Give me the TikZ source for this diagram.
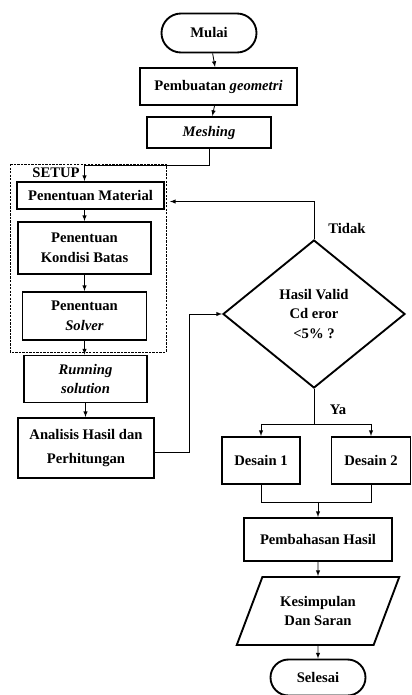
\documentclass[tikz,border=0pt]{standalone}
\usepackage{fontspec}
\setmainfont{Liberation Serif}
\usetikzlibrary{shapes.geometric,shapes.misc,positioning}
\tikzset{
  teks/.style={font=\bfseries\fontsize{12.5}{17}\selectfont, align=center, inner sep=0pt},
  terminal/.style={teks, rounded rectangle, draw, line width=1.6pt},
  kotak/.style={teks, rectangle, draw, line width=1.6pt},
  keputusan/.style={teks, diamond, draw, line width=1.6pt, aspect=1.23},
  data/.style={teks, trapezium, trapezium left angle=60, trapezium right angle=120, trapezium stretches=true, draw, line width=1.6pt},
  panah/.style={-latex, line width=0.7pt},
  garis/.style={line width=0.7pt}
}
\begin{document}
\begin{tikzpicture}[x=0.03cm,y=-0.03cm]
\useasboundingbox (0,0) rectangle (411,695);
\draw[dashed, dash pattern=on 2pt off 1pt, line width=0.6pt] (10,164) rectangle (166,352);
\node[teks] (setup) at (56,173) {SETUP};
\node[terminal, minimum width=2.85cm, minimum height=1.17cm] (mulai) at (209,33) {Mulai};
\node[kotak, minimum width=4.71cm, minimum height=1.11cm] (geometri) at (218.5,86.5) {Pembuatan \textit{geometri}};
\node[kotak, minimum width=3.72cm, minimum height=0.93cm] (meshing) at (209,132.5) {\textit{Meshing}};
\node[kotak, minimum width=4.41cm, minimum height=0.81cm] (material) at (90.5,195.5) {Penentuan Material};
\node[kotak, minimum width=3.99cm, minimum height=1.56cm] (kondisi) at (84.5,248) {Penentuan\\Kondisi Batas};
\node[kotak, minimum width=3.72cm, minimum height=1.44cm] (solver) at (84.5,316) {Penentuan\\\textit{Solver}};
\node[kotak, minimum width=3.69cm, minimum height=1.41cm] (running) at (85.5,379) {\textit{Running}\\\textit{solution}};
\node[kotak, minimum width=4.08cm, minimum height=1.8cm] (analisis) at (86,448) {Analisis Hasil dan\\[3pt]Perhitungan};
\node[keputusan, minimum width=5.46cm, minimum height=4.44cm] (valid) at (314,314) {Hasil Valid\\Cd eror\\<5\% ?};
\node[teks] (tidak) at (347,228) {Tidak};
\node[teks] (ya) at (338,410) {Ya};
\node[kotak, minimum width=2.34cm, minimum height=1.41cm] (desain1) at (261,460.5) {Desain 1};
\node[kotak, minimum width=2.37cm, minimum height=1.41cm] (desain2) at (371,460.5) {Desain 2};
\node[kotak, minimum width=4.44cm, minimum height=1.29cm] (pembahasan) at (318,539.5) {Pembahasan Hasil};
\node[data, minimum width=4.92cm, minimum height=2.04cm] (kesimpulan) at (318,611) {Kesimpulan\\Dan Saran};
\node[terminal, minimum width=2.85cm, minimum height=1.08cm] (selesai) at (318,677.5) {Selesai};
\draw[panah] (mulai) -- (geometri);
\draw[panah] (geometri) -- (meshing);
\draw[panah] (meshing.south) -- ++(0,16) -| (kondisi.north |- material.north);
\draw[panah] (kondisi.north |- material.south) -- (kondisi.north);
\draw[panah] (kondisi.south) -- (solver.north);
\draw[panah] (solver.south) -- (solver.south |- running.north);
\draw[panah] (running.south) -- (running.south |- analisis.north);
\draw[panah] ([yshift=-0.12cm]analisis.east) -- ++(34,0) |- (valid.west);
\draw[panah] (valid.north) |- ([xshift=0.15cm,yshift=-0.18cm]material.east);
\draw[garis] (valid.south) -- ++(0,35) coordinate (cabang);
\draw[garis] (cabang -| desain1) -- (cabang -| desain2);
\draw[panah] (cabang -| desain1) -- (desain1.north);
\draw[panah] (cabang -| desain2) -- (desain2.north);
\draw[garis] (desain1.south) -- ++(0,17) coordinate (gabung) -- (gabung -| desain2) -- (desain2.south);
\draw[panah] (gabung -| pembahasan) -- (pembahasan.north);
\draw[panah] (pembahasan.south) -- (kesimpulan.north);
\draw[panah] (kesimpulan.south) -- (selesai.north);
\end{tikzpicture}
\end{document}
